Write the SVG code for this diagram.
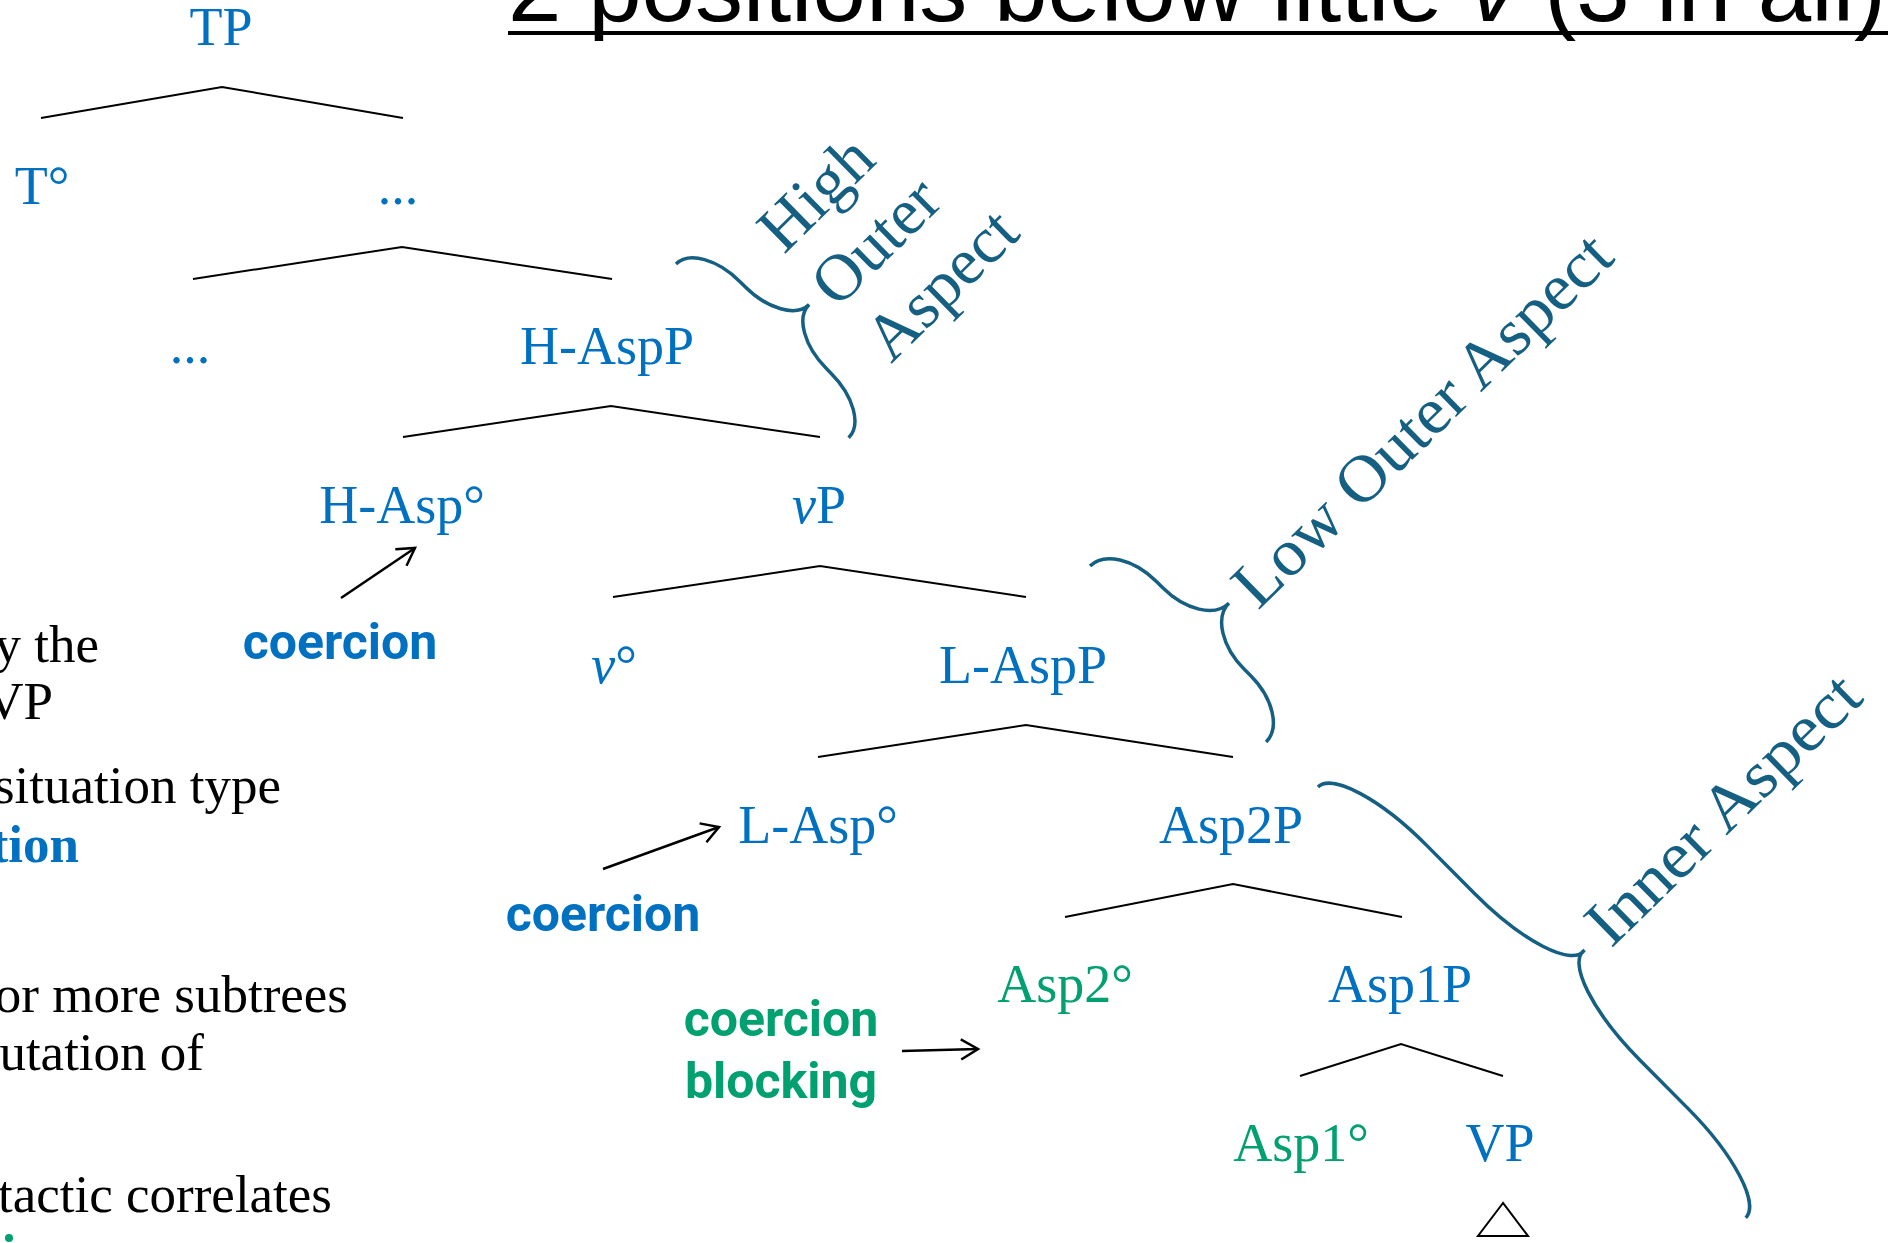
<svg xmlns="http://www.w3.org/2000/svg" width="1888" height="1243" viewBox="0 0 1888 1243">
<defs>
<style>
.lbl{font-family:"Liberation Serif",serif;font-size:54px;fill:#0070C0;text-anchor:middle}
.grn{fill:#00A070}
.tree{fill:none;stroke:#000;stroke-width:2}
.brace{fill:none;stroke:#156082;stroke-width:3.5}
.btxt{font-family:"Liberation Serif",serif;font-size:66px;fill:#156082}
.coer{font-family:Roboto,"Liberation Sans",sans-serif;font-weight:bold;font-size:50px;text-anchor:middle}
.body{font-family:"Liberation Serif",serif;font-size:53px;fill:#000;text-anchor:end}
.arr{fill:none;stroke:#000;stroke-width:2.5}
</style>
<marker id="ah" markerUnits="userSpaceOnUse" markerWidth="30" markerHeight="30" viewBox="-20 -15 30 30" refX="0" refY="0" orient="auto">
<path d="M-17,-10 L0,0 L-17,10" fill="none" stroke="#000" stroke-width="2.5"/>
</marker>
</defs>
<rect width="1888" height="1243" fill="#fff"/>

<g id="title">
<text x="508" y="21" font-family="Liberation Sans,Arial,sans-serif" font-size="94" fill="#000" textLength="1378" lengthAdjust="spacingAndGlyphs">2 positions below little <tspan font-style="italic">v</tspan> (3 in all)</text>
<rect x="508" y="31" width="1380" height="4" fill="#000"/>
</g>

<g id="left-text">
<text class="body" x="99" y="662">y the</text>
<text class="body" x="53" y="719">VP</text>
<text class="body" x="281" y="803">situation type</text>
<text class="body" x="79" y="862" font-weight="bold" style="fill:#0070C0">tion</text>
<text class="body" x="348" y="1012">or more subtrees</text>
<text class="body" x="204" y="1070">utation of</text>
<text class="body" x="332" y="1212">tactic correlates</text>
<circle cx="9" cy="1238" r="4" fill="#00A070"/>
</g>

<g id="connectors">
<polyline class="tree" points="41,118 222,87 403,118"/>
<polyline class="tree" points="193,279 402,247 612,279"/>
<polyline class="tree" points="403,437 611,406 820,437"/>
<polyline class="tree" points="613,597 820,566 1026,597"/>
<polyline class="tree" points="818,757 1026,725 1233,757"/>
<polyline class="tree" points="1065,917 1233,884 1402,917"/>
<polyline class="tree" points="1300,1076 1401,1044 1503,1076"/>
<polygon class="tree" points="1503,1203 1478,1236 1528,1236"/>
<line class="arr" x1="341" y1="598" x2="415" y2="548" marker-end="url(#ah)"/>
<line class="arr" x1="603" y1="869" x2="719" y2="827" marker-end="url(#ah)"/>
<line class="arr" x1="902" y1="1051" x2="978" y2="1049" marker-end="url(#ah)"/>
</g>

<g id="node-TP"><text class="lbl" x="221" y="45">TP</text></g>
<g id="node-T0"><text class="lbl" x="42" y="204">T°</text></g>
<g id="node-dots1"><text class="lbl" x="398" y="204">...</text></g>
<g id="node-dots2"><text class="lbl" x="190" y="363">...</text></g>
<g id="node-HAspP"><text class="lbl" x="607" y="364">H-AspP</text></g>
<g id="node-HAsp0"><text class="lbl" x="402" y="523">H-Asp°</text></g>
<g id="node-vP"><text class="lbl" x="819" y="523"><tspan font-style="italic">v</tspan>P</text></g>
<g id="node-v0"><text class="lbl" x="614" y="683"><tspan font-style="italic">v</tspan>°</text></g>
<g id="node-LAspP"><text class="lbl" x="1023" y="683">L-AspP</text></g>
<g id="node-LAsp0"><text class="lbl" x="818" y="843">L-Asp°</text></g>
<g id="node-Asp2P"><text class="lbl" x="1231" y="843">Asp2P</text></g>
<g id="node-Asp20"><text class="lbl grn" x="1065" y="1002">Asp2°</text></g>
<g id="node-Asp1P"><text class="lbl" x="1400" y="1002">Asp1P</text></g>
<g id="node-Asp10"><text class="lbl grn" x="1301" y="1161">Asp1°</text></g>
<g id="node-VP"><text class="lbl" x="1500" y="1161">VP</text></g>

<g id="coercion1"><text class="coer" x="340" y="659" fill="#0070C0">coercion</text></g>
<g id="coercion2"><text class="coer" x="603" y="931" fill="#0070C0">coercion</text></g>
<g id="coercion-blocking">
<text class="coer" x="781" y="1036" fill="#00A070">coercion</text>
<text class="coer" x="781" y="1098" fill="#00A070">blocking</text>
</g>

<g id="brace-high">
<path class="brace" transform="translate(676,264) rotate(45.2)" d="M0 0 A58 33 0 0 1 58 -33 L64.5 -33 A58 33 0 0 0 122.5 -66 A58 33 0 0 0 180.5 -33 L187 -33 A58 33 0 0 1 245 0"/>
<g transform="rotate(-44.5 784 255)">
<text class="btxt" x="784" y="255">High</text>
<text class="btxt" x="784" y="331">Outer</text>
<text class="btxt" x="784" y="408">Aspect</text>
</g>
</g>
<g id="brace-low">
<path class="brace" transform="translate(1090,566) rotate(45)" d="M0 0 A58 36 0 0 1 58 -36 L66.5 -36 A58 36 0 0 0 124.5 -72 A58 36 0 0 0 182.5 -36 L191 -36 A58 36 0 0 1 249 0"/>
<text class="btxt" x="1258" y="611" transform="rotate(-44.4 1258 611)" textLength="502" lengthAdjust="spacingAndGlyphs">Low Outer Aspect</text>
</g>
<g id="brace-inner">
<path class="brace" transform="translate(1318,787) rotate(45.2)" d="M0 0 A118 36 0 0 1 118 -36 L185.5 -36 A118 36 0 0 0 303.5 -74 A118 36 0 0 0 421.5 -36 L489 -36 A118 36 0 0 1 607 0"/>
<text class="btxt" x="1611" y="949" transform="rotate(-44.4 1611 949)" textLength="356" lengthAdjust="spacingAndGlyphs">Inner Aspect</text>
</g>
</svg>
